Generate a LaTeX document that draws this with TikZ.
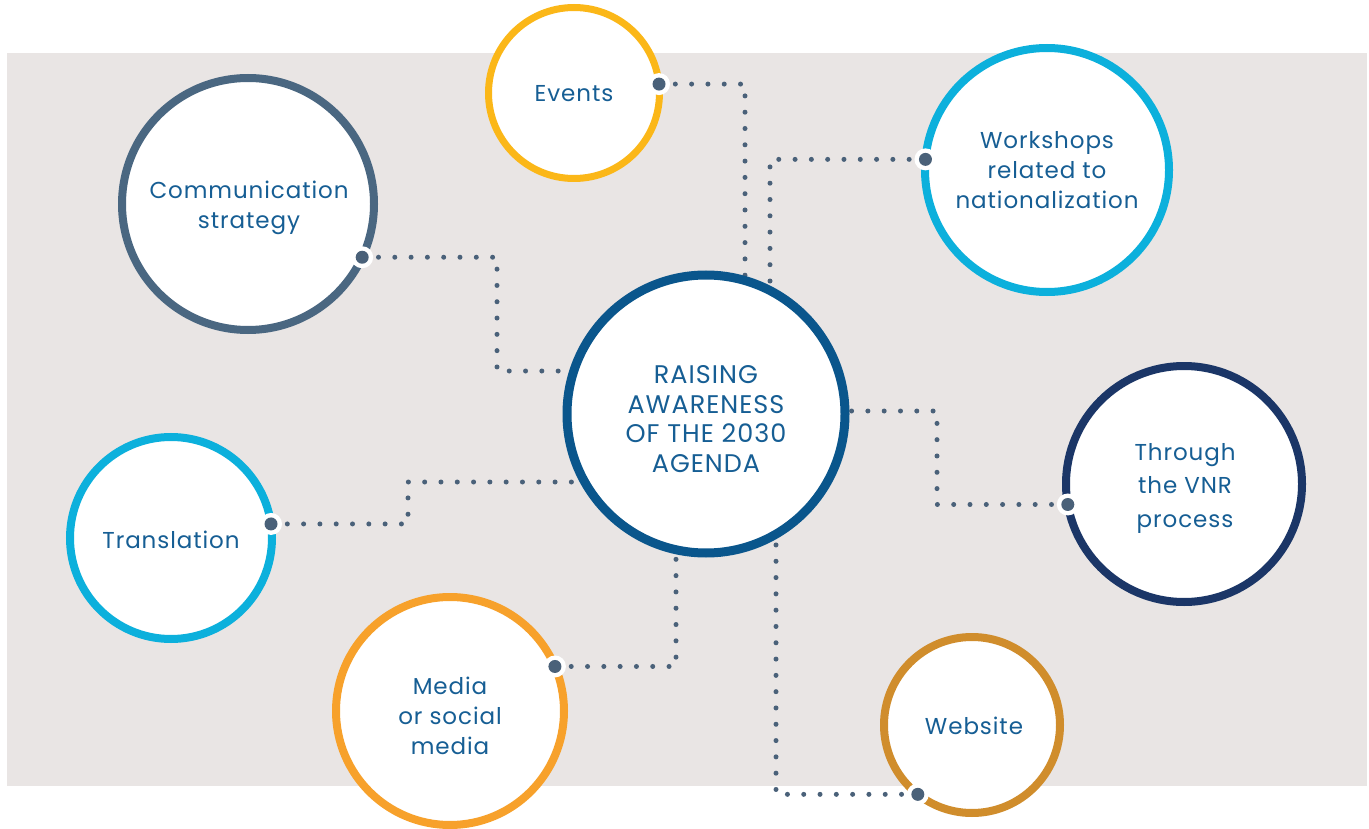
\documentclass[tikz,border=0pt]{standalone}
\usepackage{fontspec}
\setmainfont{Poppins}[LetterSpace=4.0]
\usetikzlibrary{calc}
\definecolor{bgc}{HTML}{E9E5E4}
\definecolor{dotc}{HTML}{4A6179}
\definecolor{txtc}{HTML}{165E94}
\definecolor{cslate}{HTML}{4A6781}
\definecolor{cyel}{HTML}{FBB718}
\definecolor{ccyan}{HTML}{0CB0DC}
\definecolor{cblue}{HTML}{0A568C}
\definecolor{cnavy}{HTML}{1B3667}
\definecolor{corange}{HTML}{F7A12B}
\definecolor{cgold}{HTML}{D08D2C}
\pgfdeclarelayer{bg}
\pgfsetlayers{bg,main}
\tikzset{
  circ/.style={circle, draw=#1, fill=white, line width=8pt, inner sep=0pt, outer sep=0pt},
  lbl/.style={text=txtc, align=center, inner sep=0pt, font=\fontsize{23}{30}\selectfont},
  conn/.style={dotc, line width=5pt, line cap=round, dash pattern=on 0pt off 16.3pt},
}
\newcommand{\tipdot}[1]{\fill[white] (#1) circle (11); \fill[dotc] (#1) circle (6.5);}
\begin{document}
\begin{tikzpicture}[x=1pt,y=-1pt]
\useasboundingbox (0,0) rectangle (1369,829);
% circles
\node[circ=cslate, minimum size=252pt] (comm) at (248,204) {};
\node[circ=cyel, line width=7pt, minimum size=171pt] (events) at (574,93) {};
\node[circ=ccyan, minimum size=244pt] (work) at (1047,170) {};
\node[circ=cblue, line width=9pt, minimum size=278pt] (raise) at (706,414) {};
\node[circ=cnavy, minimum size=236pt] (vnr) at (1184,484) {};
\node[circ=ccyan, minimum size=202pt] (trans) at (171,538) {};
\node[circ=corange, minimum size=228pt] (media) at (450,711) {};
\node[circ=cgold, minimum size=176pt] (web) at (972,725) {};
% texts
\node[lbl] (commT) at ($(comm)+(1,4)$) {Communication\\strategy};
\node[lbl] (eventsT) at ($(events)+(0,1)$) {Events};
\node[lbl] (workT) at (work) {Workshops\\related to\\nationalization};
\node[lbl, font=\fontsize{25.5}{29.5}\selectfont] (raiseT) at ($(raise)+(0,5)$) {RAISING\\AWARENESS\\OF THE 2030\\AGENDA};
\node[lbl, font=\fontsize{23}{33.5}\selectfont] (vnrT) at ($(vnr)+(1,4)$) {Through\\the VNR\\process};
\node[lbl] (transT) at ($(trans)+(0,2)$) {Translation};
\node[lbl] (mediaT) at ($(media)+(0,5)$) {Media\\or social\\media};
\node[lbl] (webT) at ($(web)+(2,1)$) {Website};
% corner points
\coordinate (p1) at (497,371);
\coordinate (p2) at (745,414);
\coordinate (p3) at (770,414);
\coordinate (p4) at (937,411);
\coordinate (p5) at (408,482);
\coordinate (p6) at (676,414);
\coordinate (p7) at (776,414);
\begin{pgfonlayer}{bg}
\fill[bgc] (7,53) rectangle (1367,786);
\draw[conn] (comm.-25) -| (p1) -- (p1 -| raise);
\draw[conn] (events.6) -| (p2);
\draw[conn] (work.175) -| (p3);
\draw[conn] (vnr.190) -| (p4) -- (p4 -| raise);
\draw[conn] (trans.8) -| (p5) -- (p5 -| raise);
\draw[conn] (media.23) -| (p6);
\draw[conn] (web.-128) -| (p7);
\end{pgfonlayer}
\tipdot{comm.-25}
\tipdot{events.6}
\tipdot{work.175}
\tipdot{vnr.190}
\tipdot{trans.8}
\tipdot{media.23}
\tipdot{web.-128}
\end{tikzpicture}
\end{document}
